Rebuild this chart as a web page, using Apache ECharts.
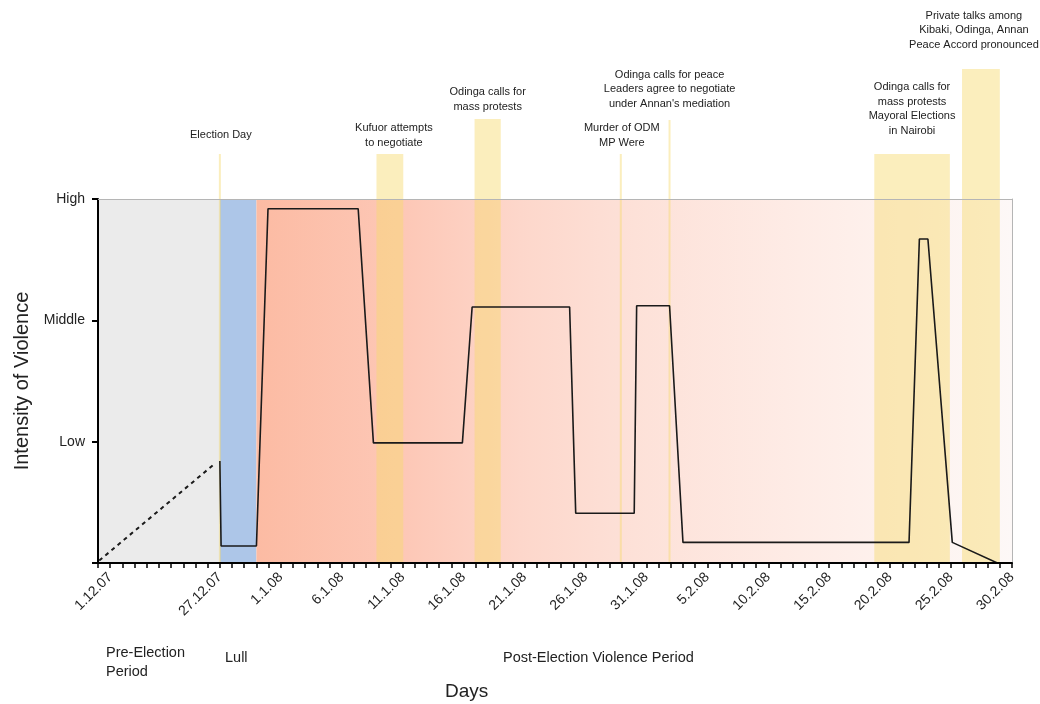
<!DOCTYPE html>
<html><head><meta charset="utf-8">
<script src="https://cdn.jsdelivr.net/npm/echarts@6/dist/echarts.min.js"></script>
<style>html,body{margin:0;padding:0;background:#fff}#c{width:1040px;height:704px}</style>
</head><body><div id="c"></div>
<script>
// ---- data ----
const tickValues = [1, 10, 15, 20, 25, 30, 35, 40, 45, 50, 55, 60, 65, 70, 75];
const tickLabels = ['1.12.07', '27.12.07', '1.1.08', '6.1.08', '11.1.08', '16.1.08', '21.1.08', '26.1.08', '31.1.08', '5.2.08', '10.2.08', '15.2.08', '20.2.08', '25.2.08', '30.2.08'];
const levelLabels = ['', 'Low', 'Middle', 'High'];

const periodNames = ['Pre-Election\nPeriod', 'Lull', 'Post-Election Violence Period'];
const periodStart = [0, 10, 13];
const periodEnd = [10, 13, 75];

const violenceX = [10, 10.1, 13.0, 13.95, 21.35, 22.6, 29.9, 30.7, 38.7, 39.2, 44.0, 44.2, 46.9, 48.0, 66.55, 67.4, 68.1, 70.1, 73.8];
const violenceY = [0.84, 0.14, 0.14, 2.92, 2.92, 0.99, 0.99, 2.11, 2.11, 0.41, 0.41, 2.12, 2.12, 0.17, 0.17, 2.67, 2.67, 0.17, 0.0];
const trendX = [0.1, 9.6];
const trendY = [0.02, 0.82];

const eventStart = [10, 22.85, 30.9, 42.9, 46.9, 63.7, 70.9];
const eventEnd = [10, 25.05, 33.05, 42.9, 46.9, 69.9, 74.0];
const eventTexts = [
  'Election Day',
  'Kufuor attempts\nto negotiate',
  'Odinga calls for\nmass protests',
  'Murder of ODM\nMP Were',
  "Odinga calls for peace\nLeaders agree to negotiate\nunder Annan's mediation",
  'Odinga calls for\nmass protests\nMayoral Elections\nin Nairobi',
  'Private talks among\nKibaki, Odinga, Annan\nPeace Accord pronounced'
];

// ---- styling (pixels) ----
const eventRise = [45, 45, 80, 45, 79, 45, 130];
const eventLabelGap = [12, 4, 5, 4, 9, 16, 17];
const eventLabelShift = [1, 4, 0, 1, 0, 0, -7];
const FONT = '"Liberation Sans", Arial, Helvetica, sans-serif';

const labelMap = {};
tickValues.forEach((v, i) => labelMap[v] = tickLabels[i]);

const periodFills = [
  '#ebebeb',
  '#adc6e8',
  new echarts.graphic.LinearGradient(0, 0, 1, 0, [
    {offset: 0, color: '#fcbba3'},
    {offset: 0.2, color: '#fdc8b7'},
    {offset: 0.35, color: '#fdd7cb'},
    {offset: 0.5, color: '#fde1d8'},
    {offset: 0.7, color: '#feebe5'},
    {offset: 0.85, color: '#fef2ee'},
    {offset: 1, color: '#fdf8f7'}
  ])
];

const chart = echarts.init(document.getElementById('c'), null, {renderer: 'canvas'});

const option = {
  animation: false,
  backgroundColor: '#fff',
  grid: {left: 98, right: 28, top: 199, bottom: 141},
  xAxis: [{
    type: 'value', min: 0, max: 75, interval: 1, z: 10,
    axisLine: {show: true, onZero: false, lineStyle: {color: '#000', width: 2}},
    axisTick: {show: true, length: 5, lineStyle: {color: '#000', width: 1.5}},
    axisLabel: {
      rotate: 45, margin: 12, fontSize: 14, color: '#222', fontFamily: FONT,
      formatter: v => labelMap[v] || ''
    },
    splitLine: {show: false}
  }, {
    type: 'value', position: 'top', min: 0, max: 75, z: 10,
    axisLine: {show: true, onZero: false, lineStyle: {color: '#b5b5b5', width: 1}},
    axisTick: {show: false}, axisLabel: {show: false}, splitLine: {show: false}
  }],
  yAxis: [{
    type: 'value', min: 0, max: 3, interval: 1, z: 10,
    name: 'Intensity of Violence', nameLocation: 'middle', nameGap: 62,
    nameTextStyle: {fontSize: 20, color: '#222', fontFamily: FONT},
    axisLine: {show: true, onZero: false, lineStyle: {color: '#000', width: 2}},
    axisTick: {show: true, length: 6, lineStyle: {color: '#000', width: 2}},
    axisLabel: {margin: 13, fontSize: 14, color: '#222', fontFamily: FONT,
      formatter: v => levelLabels[v] || ''},
    splitLine: {show: false}
  }, {
    type: 'value', position: 'right', min: 0, max: 3, z: 10,
    axisLine: {show: true, onZero: false, lineStyle: {color: '#b5b5b5', width: 1}},
    axisTick: {show: false}, axisLabel: {show: false}, splitLine: {show: false}
  }],
  series: [
    {
      type: 'custom', z: 1, clip: true,
      data: periodStart.map((s, i) => [s, periodEnd[i], i]),
      encode: {x: [0, 1]},
      renderItem: (params, api) => {
        const i = api.value(2);
        const p0 = api.coord([api.value(0), 0]);
        const p1 = api.coord([api.value(1), 3]);
        return {type: 'rect', shape: {x: p0[0], y: p1[1], width: p1[0] - p0[0], height: p0[1] - p1[1]},
          style: {fill: periodFills[i]}};
      }
    },
    {
      type: 'custom', z: 2, clip: false,
      data: eventStart.map((s, i) => [s, eventEnd[i], i]),
      encode: {x: [0, 1]},
      renderItem: (params, api) => {
        const i = api.value(2);
        const p0 = api.coord([api.value(0), 0]);
        const p1 = api.coord([api.value(1), 3]);
        let w = p1[0] - p0[0];
        let x = p0[0];
        if (w < 2) { x = p0[0] - 1; w = 2; }
        const top = p1[1] - eventRise[i];
        return {type: 'group', children: [
          {type: 'rect', shape: {x: x, y: top, width: w, height: p0[1] - top},
            style: {fill: 'rgba(246,218,112,0.46)'}},
          {type: 'text', x: x + w / 2 + eventLabelShift[i], y: top - eventLabelGap[i],
            style: {text: eventTexts[i], fill: '#222', fontSize: 11, fontFamily: FONT,
              align: 'center', verticalAlign: 'bottom', lineHeight: 14.5}}
        ]};
      }
    },
    {
      type: 'line', z: 5, showSymbol: false, symbol: 'none',
      data: violenceX.map((x, i) => [x, violenceY[i]]),
      lineStyle: {color: '#1a1a1a', width: 1.6}
    },
    {
      type: 'line', z: 5, showSymbol: false, symbol: 'none',
      data: trendX.map((x, i) => [x, trendY[i]]),
      lineStyle: {color: '#1a1a1a', width: 2, type: [4, 4]}
    }
  ],
  graphic: [
    {type: 'text', left: 106, top: 643, style: {text: periodNames[0], fontSize: 14.5, lineHeight: 19, fill: '#222', fontFamily: FONT}},
    {type: 'text', left: 225, top: 650, style: {text: periodNames[1], fontSize: 14.5, fill: '#222', fontFamily: FONT}},
    {type: 'text', left: 503, top: 650, style: {text: periodNames[2], fontSize: 14.5, fill: '#222', fontFamily: FONT}},
    {type: 'text', left: 445, top: 682, style: {text: 'Days', fontSize: 19, fill: '#222', fontFamily: FONT}}
  ]
};
chart.setOption(option);
</script>
</body></html>
